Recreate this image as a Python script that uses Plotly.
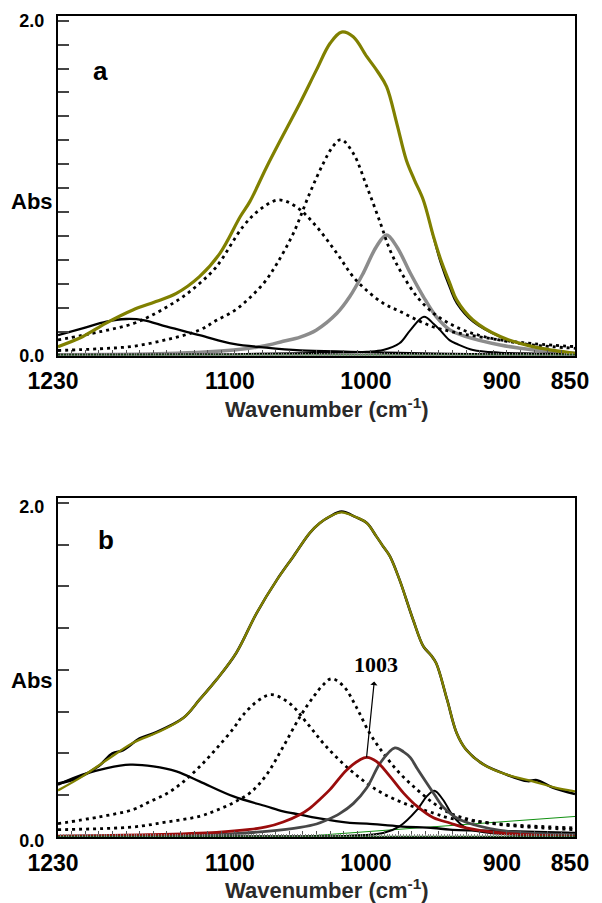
import plotly.graph_objects as go

# ---------------- data ----------------
# Panel a
a_total_x = [1230, 1212, 1195, 1175, 1158, 1143, 1126, 1111, 1096, 1089, 1077, 1064.5, 1052, 1040, 1030, 1021.6, 1013, 1003, 995, 988.5, 981, 974, 968, 961.5, 954, 949, 942, 937, 925, 905, 881, 850]
a_total_y = [0.053, 0.112, 0.192, 0.272, 0.322, 0.371, 0.471, 0.610, 0.83, 0.919, 1.12, 1.317, 1.51, 1.706, 1.865, 1.932, 1.904, 1.785, 1.695, 1.606, 1.387, 1.168, 1.048, 0.929, 0.71, 0.58, 0.431, 0.332, 0.212, 0.113, 0.053, 0.013]
a_exp_x = [1230, 1212, 1195, 1175, 1158, 1143, 1126, 1111, 1096, 1089, 1077, 1064.5, 1052, 1040, 1030, 1021.6, 1013, 1003, 995, 988.5, 981, 974, 968, 961.5, 954, 949, 942, 937, 925, 905, 881, 850]
a_exp_y = [0.053, 0.112, 0.192, 0.272, 0.322, 0.371, 0.471, 0.610, 0.83, 0.919, 1.12, 1.317, 1.51, 1.706, 1.865, 1.932, 1.904, 1.785, 1.695, 1.606, 1.387, 1.168, 1.048, 0.929, 0.70, 0.555, 0.40, 0.31, 0.20, 0.11, 0.052, 0.012]
a_broad_dot_x = [1230, 1199, 1175, 1163, 1150, 1138, 1126, 1113.5, 1094, 1082, 1068, 1055, 1040, 1025, 1011, 991, 979, 966, 954, 942, 930, 905, 880, 850]
a_broad_dot_y = [0.093, 0.142, 0.19, 0.232, 0.29, 0.352, 0.43, 0.531, 0.77, 0.869, 0.929, 0.889, 0.77, 0.61, 0.451, 0.312, 0.265, 0.212, 0.17, 0.145, 0.125, 0.093, 0.07, 0.053]
a_narrow_dot_x = [1230, 1200, 1175, 1150, 1126, 1113.5, 1100, 1089, 1078, 1069, 1057, 1045, 1035, 1028, 1022, 1013, 1003, 993, 986, 978, 966, 954, 942, 930, 917, 900, 880, 850]
a_narrow_dot_y = [0.03, 0.04, 0.055, 0.095, 0.152, 0.21, 0.27, 0.345, 0.44, 0.55, 0.73, 0.969, 1.148, 1.248, 1.29, 1.208, 1.009, 0.79, 0.63, 0.50, 0.35, 0.252, 0.19, 0.145, 0.113, 0.085, 0.062, 0.043]
a_gray_x = [1230, 1150, 1101, 1080, 1064.5, 1052, 1040, 1025, 1015.5, 1005.7, 996, 988.5, 981, 971, 961.5, 952, 942, 930, 905, 880, 850]
a_gray_y = [0.005, 0.012, 0.033, 0.055, 0.085, 0.11, 0.153, 0.252, 0.352, 0.491, 0.650, 0.720, 0.650, 0.491, 0.352, 0.232, 0.153, 0.113, 0.063, 0.033, 0.013]
a_broad_x = [1230, 1212, 1194.5, 1180, 1167.5, 1150, 1126, 1101, 1077, 1052, 1015, 980, 940, 900, 850]
a_broad_y = [0.122, 0.162, 0.202, 0.218, 0.212, 0.172, 0.122, 0.069, 0.047, 0.031, 0.022, 0.015, 0.01, 0.007, 0.005]
a_small_x = [1230, 1100, 1028, 1003, 991, 979, 971, 961, 954, 949, 942, 937, 925, 905, 880, 850]
a_small_y = [0.005, 0.008, 0.017, 0.023, 0.033, 0.073, 0.152, 0.232, 0.19, 0.15, 0.09, 0.07, 0.033, 0.017, 0.012, 0.009]
a_base_x = [1230, 850]
a_base_y = [0.0, 0.0]

# Panel b
b_total_x = [1230, 1212, 1192, 1175, 1155, 1138, 1126, 1113.5, 1099, 1084, 1069, 1057, 1045, 1037.5, 1030, 1021.6, 1011, 1003, 996, 991, 986, 979, 969, 961.5, 956, 952, 944, 937, 930, 917, 900, 881, 866, 850]
b_total_y = [0.279, 0.363, 0.473, 0.563, 0.633, 0.712, 0.822, 0.942, 1.102, 1.341, 1.541, 1.680, 1.820, 1.880, 1.92, 1.944, 1.915, 1.880, 1.80, 1.740, 1.68, 1.541, 1.301, 1.142, 1.09, 1.04, 0.822, 0.623, 0.523, 0.433, 0.373, 0.333, 0.299, 0.273]
b_exp_x = [1230, 1215, 1200, 1190, 1182, 1170, 1160, 1138, 1126, 1113.5, 1099, 1084, 1069, 1057, 1045, 1037.5, 1030, 1021.6, 1011, 1003, 996, 991, 986, 979, 969, 961.5, 956, 952, 944, 937, 930, 917, 900, 885, 878, 866, 850]
b_exp_y = [0.32, 0.355, 0.425, 0.50, 0.52, 0.59, 0.62, 0.712, 0.822, 0.942, 1.102, 1.341, 1.541, 1.680, 1.820, 1.880, 1.92, 1.948, 1.915, 1.880, 1.80, 1.740, 1.68, 1.541, 1.301, 1.142, 1.09, 1.04, 0.822, 0.623, 0.523, 0.433, 0.373, 0.335, 0.34, 0.295, 0.257]
b_broad_dot_x = [1230, 1200, 1175, 1163, 1150, 1138, 1126, 1113.5, 1101, 1094, 1082, 1073, 1060, 1047, 1033, 1015.5, 996, 976, 954, 942, 925, 900, 875, 850]
b_broad_dot_y = [0.08, 0.12, 0.164, 0.21, 0.26, 0.33, 0.42, 0.53, 0.65, 0.73, 0.822, 0.852, 0.802, 0.682, 0.543, 0.403, 0.283, 0.203, 0.143, 0.113, 0.095, 0.075, 0.063, 0.054]
b_narrow_dot_x = [1230, 1175, 1150, 1126, 1113.5, 1100, 1088, 1077, 1064.5, 1052, 1042, 1035, 1029, 1020, 1011, 1001, 991, 979, 966, 954, 942, 925, 900, 875, 850]
b_narrow_dot_y = [0.044, 0.06, 0.09, 0.124, 0.16, 0.21, 0.27, 0.37, 0.54, 0.722, 0.842, 0.912, 0.948, 0.902, 0.782, 0.623, 0.503, 0.383, 0.283, 0.203, 0.143, 0.10, 0.07, 0.055, 0.044]
b_red_x = [1230, 1163, 1113.5, 1089, 1077, 1064.5, 1052, 1045, 1038, 1030, 1018, 1008, 1003, 996, 986, 976, 966, 954, 942, 930, 905, 875, 850]
b_red_y = [0.005, 0.014, 0.028, 0.045, 0.06, 0.09, 0.135, 0.172, 0.222, 0.285, 0.40, 0.463, 0.477, 0.453, 0.363, 0.263, 0.183, 0.115, 0.084, 0.054, 0.024, 0.01, 0.004]
b_dgray_x = [1230, 1150, 1100, 1077, 1052, 1040, 1033, 1023, 1013, 1003, 993, 982.4, 976, 971, 966, 959, 953, 947, 940, 930, 905, 880, 850]
b_dgray_y = [0.003, 0.01, 0.02, 0.034, 0.058, 0.078, 0.1, 0.14, 0.2, 0.295, 0.445, 0.533, 0.51, 0.475, 0.41, 0.323, 0.25, 0.18, 0.13, 0.088, 0.04, 0.022, 0.014]
b_broad_x = [1230, 1212, 1194, 1177, 1160, 1143, 1126, 1101, 1077, 1064.5, 1052, 1040, 1015.5, 1003, 979, 954, 942, 900, 850]
b_broad_y = [0.313, 0.373, 0.413, 0.433, 0.423, 0.393, 0.333, 0.243, 0.184, 0.154, 0.134, 0.114, 0.084, 0.08, 0.064, 0.054, 0.044, 0.035, 0.024]
b_small_x = [1230, 1100, 1015.5, 991, 979, 966, 959, 953.4, 947, 939.5, 930, 917, 893, 850]
b_small_y = [0.003, 0.004, 0.008, 0.024, 0.064, 0.164, 0.243, 0.277, 0.223, 0.124, 0.054, 0.028, 0.014, 0.008]
b_green_x = [1230, 1056, 983, 909, 850]
b_green_y = [0.0, 0.0, 0.044, 0.09, 0.123]

x_tick_values = [1230, 1100, 1000, 900, 850]
x_tick_labels = ["1230", "1100", "1000", "900", "850"]
y_tick_values = [0.0, 2.0]
y_tick_labels = ["0.0", "2.0"]
panel_labels = ["a", "b"]
peak_label = "1003"
peak_x = 1003.2
peak_y = 0.477

# ---------------- layout helpers ----------------
W, H = 602, 903
L, R, T, B = 58, 27, 16, 66
PW, PH = W - L - R, H - T - B


def fx(px):
    return (px - L) / PW


def fy(py):
    return (H - B - py) / PH


dom_a = [fy(355.5), 1.0]
dom_b = [0.0, fy(498.3)]
YMAX = 2.028

OLIVE = "#808000"

fig = go.Figure()


def add(x, y, xa, ya, color, width, dash=None, shape="spline"):
    line = dict(color=color, width=width, shape=shape)
    if dash:
        line["dash"] = dash
    if shape == "spline":
        line["smoothing"] = 1.0
    fig.add_trace(go.Scatter(x=x, y=y, mode="lines", line=line, xaxis=xa, yaxis=ya,
                             hoverinfo="skip", showlegend=False))


# panel a traces (baseline is attached to the fine-tick axis so that axis is drawn)
add(a_base_x, a_base_y, "x3", "y", "#1f5a1f", 2.5, shape="linear")
add(a_gray_x, a_gray_y, "x", "y", "#8c8c8c", 3.5)
add(a_broad_x, a_broad_y, "x", "y", "black", 2.3)
add(a_small_x, a_small_y, "x", "y", "black", 2.0)
add(a_broad_dot_x, a_broad_dot_y, "x", "y", "black", 2.8, dash="3px,4px")
add(a_narrow_dot_x, a_narrow_dot_y, "x", "y", "black", 2.8, dash="3px,4px")
add(a_exp_x, a_exp_y, "x", "y", "black", 1.5)
add(a_total_x, a_total_y, "x", "y", OLIVE, 3.2)

# panel b traces
add(a_base_x, a_base_y, "x4", "y2", "#1f5a1f", 2.5, shape="linear")
add(b_green_x, b_green_y, "x2", "y2", "#109010", 1.0, shape="linear")
add(b_broad_x, b_broad_y, "x2", "y2", "black", 2.3)
add(b_small_x, b_small_y, "x2", "y2", "black", 2.0)
add(b_broad_dot_x, b_broad_dot_y, "x2", "y2", "black", 2.8, dash="3px,4px")
add(b_narrow_dot_x, b_narrow_dot_y, "x2", "y2", "black", 2.8, dash="3px,4px")
add(b_dgray_x, b_dgray_y, "x2", "y2", "#474747", 2.8)
add(b_red_x, b_red_y, "x2", "y2", "#9a0c0c", 2.8)
add(b_exp_x, b_exp_y, "x2", "y2", "black", 2.6)
add(b_total_x, b_total_y, "x2", "y2", OLIVE, 2.3)

xfont = dict(family="Liberation Sans, Arial, sans-serif", size=23, color="black", weight="bold")
yfont = dict(family="Liberation Sans, Arial, sans-serif", size=18, color="black", weight="bold")


def xaxis(anchor):
    return dict(anchor=anchor, range=[1230, 850], domain=[0, 1], showline=True, linewidth=2,
                linecolor="black", mirror=True, showgrid=False, zeroline=False, automargin=False,
                ticks="inside", tickvals=x_tick_values, ticktext=x_tick_labels, ticklen=6,
                tickwidth=1, tickcolor="#555",
                minor=dict(ticks="inside", dtick=10, tick0=850, ticklen=6, tickwidth=1,
                           tickcolor="#555", showgrid=False),
                tickfont=xfont, ticklabelshift=5, ticklabelstandoff=4)


def xaxis_fine(overlay, anchor):
    # finer tick marks (every 2 cm-1) drawn by a tick-only overlaying axis
    return dict(overlaying=overlay, anchor=anchor, range=[1230, 850], side="bottom",
                showline=False, showgrid=False, zeroline=False, automargin=False,
                showticklabels=False, ticks="inside", dtick=2, tick0=850, ticklen=3,
                tickwidth=1, tickcolor="#888")


def yaxis(anchor, domain, n_intervals):
    return dict(anchor=anchor, domain=domain, range=[0, YMAX], showline=True, linewidth=2,
                linecolor="black", mirror=True, showgrid=False, zeroline=False, automargin=False,
                ticks="inside", tickvals=y_tick_values, ticktext=y_tick_labels, ticklen=11,
                tickwidth=1.5, tickcolor="#444", tickfont=yfont, ticklabelstandoff=8,
                minor=dict(ticks="inside", dtick=2.0 / n_intervals, tick0=0, ticklen=11,
                           tickwidth=1.5, tickcolor="#444", showgrid=False))


fig.update_layout(
    template="none",
    width=W, height=H, margin=dict(l=L, r=R, t=T, b=B, autoexpand=False),
    plot_bgcolor="white", paper_bgcolor="white", showlegend=False,
    xaxis=xaxis("y"), yaxis=yaxis("x", dom_a, 14),
    xaxis2=xaxis("y2"), yaxis2=yaxis("x2", dom_b, 8),
    xaxis3=xaxis_fine("x", "y"), xaxis4=xaxis_fine("x2", "y2"),
)
fig.layout.yaxis2.ticklabelshift = 4

lab_font = dict(family="Liberation Sans, Arial, sans-serif", size=26, color="black", weight="bold")
abs_font = dict(family="Liberation Sans, Arial, sans-serif", size=22, color="black", weight="bold")
tit_font = dict(family="Liberation Sans, Arial, sans-serif", size=22, color="#2a2a2a", weight="bold")
ann = [
    dict(text=panel_labels[0], x=fx(100), y=fy(71), font=lab_font),
    dict(text=panel_labels[1], x=fx(106), y=fy(540), font=lab_font),
    dict(text="Abs", x=fx(32), y=fy(202), font=abs_font),
    dict(text="Abs", x=fx(32), y=fy(680), font=abs_font),
    dict(text="Wavenumber (cm<sup>-1</sup>)", x=fx(327), y=fy(408), font=tit_font),
    dict(text="Wavenumber (cm<sup>-1</sup>)", x=fx(327), y=fy(889), font=tit_font),
]
for a in ann:
    a.update(xref="paper", yref="paper", showarrow=False, xanchor="center", yanchor="middle")
    fig.add_annotation(**a)

# peak label with an arrow pointing up to it from the red band maximum
fig.add_annotation(text=peak_label, x=peak_x, y=peak_y, xref="x2", yref="y2",
                   ax=996.3, ay=1.032, axref="x2", ayref="y2",
                   showarrow=True, arrowside="start", arrowhead=5, arrowsize=1.6,
                   arrowwidth=1.2, arrowcolor="black", startstandoff=3,
                   font=dict(family="Liberation Serif, Times New Roman, serif", size=22,
                             color="black", weight="bold"))

fig.write_html("out.html", config={"displayModeBar": False},
               post_script="document.body.style.margin='0px';")
